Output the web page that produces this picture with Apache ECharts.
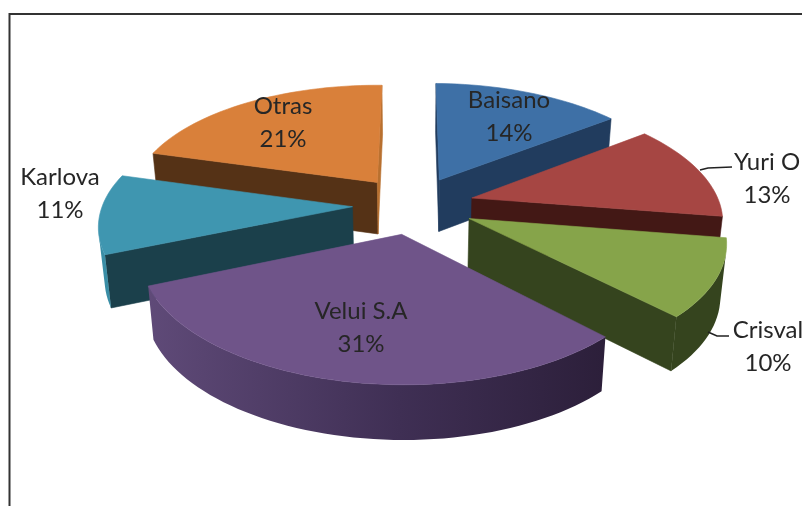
<!DOCTYPE html>
<html>
<head>
<meta charset="utf-8">
<style>html,body{margin:0;padding:0;background:#fff}#chart{width:802px;height:506px}</style>
<script src="https://cdn.jsdelivr.net/npm/echarts@6/dist/echarts.min.js"></script>
</head>
<body>
<div id="chart"></div>
<script>
// values, clockwise from 12 o'clock
const names = ['Baisano','Yuri O','Crisval','Velui S.A','Karlova','Otras'];
const values = [14.4,12.8,10.3,31,10.6,20.9];

const topColors = ['#3e70a6','#a64643','#86a44a','#6f5489','#3f96b0','#d9803a'];
const wallColors = ['#213c5e','#431815','#35441e','#2c1f3a','#1b404b','#553216'];
const endWallColors = ['#213c5e','#431815','#35441e','#2c1f3a','#1b404b','#b8702f'];
const outerLeft = ['#2f5680','#7a302d','#35441e','#5f4a78','#3a8ea6','#a8652c'];
const outerMid = ['#2f5680','#7a302d','#35441e','#3f2f54','#3a8ea6','#a8652c'];
const outerRight = ['#2f5680','#7a302d','#35441e','#2c1f3a','#3a8ea6','#a8652c'];

// label anchors, center x / center y of the first line
const labelSpots = [[509,100],[767,162],[768,330],[361,311],[60,177],[283,106]];

// projection of the tilted pie, unit radius
const cx = 413.5, cy = 205, rx = 249, ry = 118, persp = 0.15, depth = 52, shrink = 0.02, explode = 0.245, roll = 0.008;

const total = values.reduce((a,b) => a + b,0);
const slices = [];
let acc = 0;
values.forEach((v,i) => {
    let start = acc / total * Math.PI * 2;
    acc += v;
    let end = acc / total * Math.PI * 2;
    let mid = (start + end) / 2;
    slices.push({i,start,end,mid,ox:Math.sin(mid) * explode,oy:-Math.cos(mid) * explode});
});
const drawOrder = slices.slice().sort((a,b) => a.oy - b.oy).map(s => s.i);

const project = (x,y,low) => {
    let w = 1 - persp * y;
    let k = low ? 1 - shrink : 1;
    let dx = rx * x / w * k;
    return [cx + dx, cy + ry * y / w + (low ? depth * (1 + 0.05 * y) : 0) + roll * dx];
};
const rimPoint = (s,a,low) => project(s.ox + Math.sin(a),s.oy - Math.cos(a),low);
const tipPoint = (s,low) => project(s.ox,s.oy,low);

const area = pts => {
    let sum = 0;
    pts.forEach((p,i) => {
        let q = pts[(i + 1) % pts.length];
        sum += p[0] * q[1] - q[0] * p[1];
    });
    return sum;
};
const poly = (points,fill,stroke) => ({
    type:'polygon',
    shape:{points},
    style:{fill,stroke:stroke || fill,lineWidth:0.6}
});

const renderSlice = (params,api) => {
    let s = slices[api.value(0)];
    let children = [];
    let steps = Math.max(8,Math.round((s.end - s.start) * 30));
    let rim = [];
    for(let n = 0;n <= steps;n++){
        rim.push(s.start + (s.end - s.start) * n / steps);
    }
    // radial walls, hidden ones are culled
    let startWall = [tipPoint(s),rimPoint(s,s.start),rimPoint(s,s.start,true),tipPoint(s,true)];
    if(area(startWall) < 0) children.push(poly(startWall,wallColors[s.i]));
    let endWall = [rimPoint(s,s.end),tipPoint(s),tipPoint(s,true),rimPoint(s,s.end,true)];
    if(area(endWall) < 0) children.push(poly(endWall,endWallColors[s.i]));
    // the part of the outer wall that faces the viewer, shaded left to right
    let upper = [],lower = [];
    for(let n = 0;n < steps;n++){
        let quad = [rimPoint(s,rim[n]),rimPoint(s,rim[n + 1]),rimPoint(s,rim[n + 1],true),rimPoint(s,rim[n],true)];
        if(area(quad) < 0){
            if(!upper.length){
                upper.push(quad[0]);
                lower.push(quad[3]);
            }
            upper.push(quad[1]);
            lower.push(quad[2]);
        }
    }
    if(upper.length){
        let fill = new echarts.graphic.LinearGradient(0,0,1,0,[
            {offset:0,color:outerLeft[s.i]},
            {offset:0.55,color:outerMid[s.i]},
            {offset:1,color:outerRight[s.i]}
        ]);
        children.push({
            type:'polygon',
            shape:{points:upper.concat(lower.reverse())},
            style:{fill}
        });
    }
    let top = [tipPoint(s)].concat(rim.map(a => rimPoint(s,a)));
    children.push(poly(top,topColors[s.i]));
    return {type:'group',children};
};

const renderLabel = (params,api) => {
    let i = api.value(0);
    let spot = labelSpots[i];
    let pct = Math.round(values[i] / total * 100) + '%';
    let font = '24px Lato, "Open Sans", sans-serif';
    return {
        type:'group',
        children:[names[i],pct].map((text,n) => ({
            type:'text',
            style:{text,x:spot[0],y:spot[1] + n * 33.5,font,fill:'#262626',align:'center',verticalAlign:'middle'}
        }))
    };
};

const leader = points => ({
    type:'polyline',
    shape:{points},
    style:{stroke:'#222',lineWidth:1.6,fill:'none'}
});

const chart = echarts.init(document.getElementById('chart'));
chart.setOption({
    animation:false,
    backgroundColor:'#fff',
    graphic:[
        {type:'polyline',shape:{points:[[9.5,506],[9.5,14],[802,14]]},style:{stroke:'#333',lineWidth:2,fill:'none'},silent:true},
        Object.assign(leader([[700,170],[708,168],[732,167]]),{z:20}),
        Object.assign(leader([[708,332],[717,336],[729,336]]),{z:20})
    ],
    series:[
        {
            type:'custom',
            coordinateSystem:'none',
            renderItem:renderSlice,
            silent:true,
            data:drawOrder.map(i => [i]),
            z:2
        },
        {
            type:'custom',
            coordinateSystem:'none',
            renderItem:renderLabel,
            silent:true,
            data:names.map((n,i) => [i]),
            z:3
        }
    ]
});
</script>
</body>
</html>
